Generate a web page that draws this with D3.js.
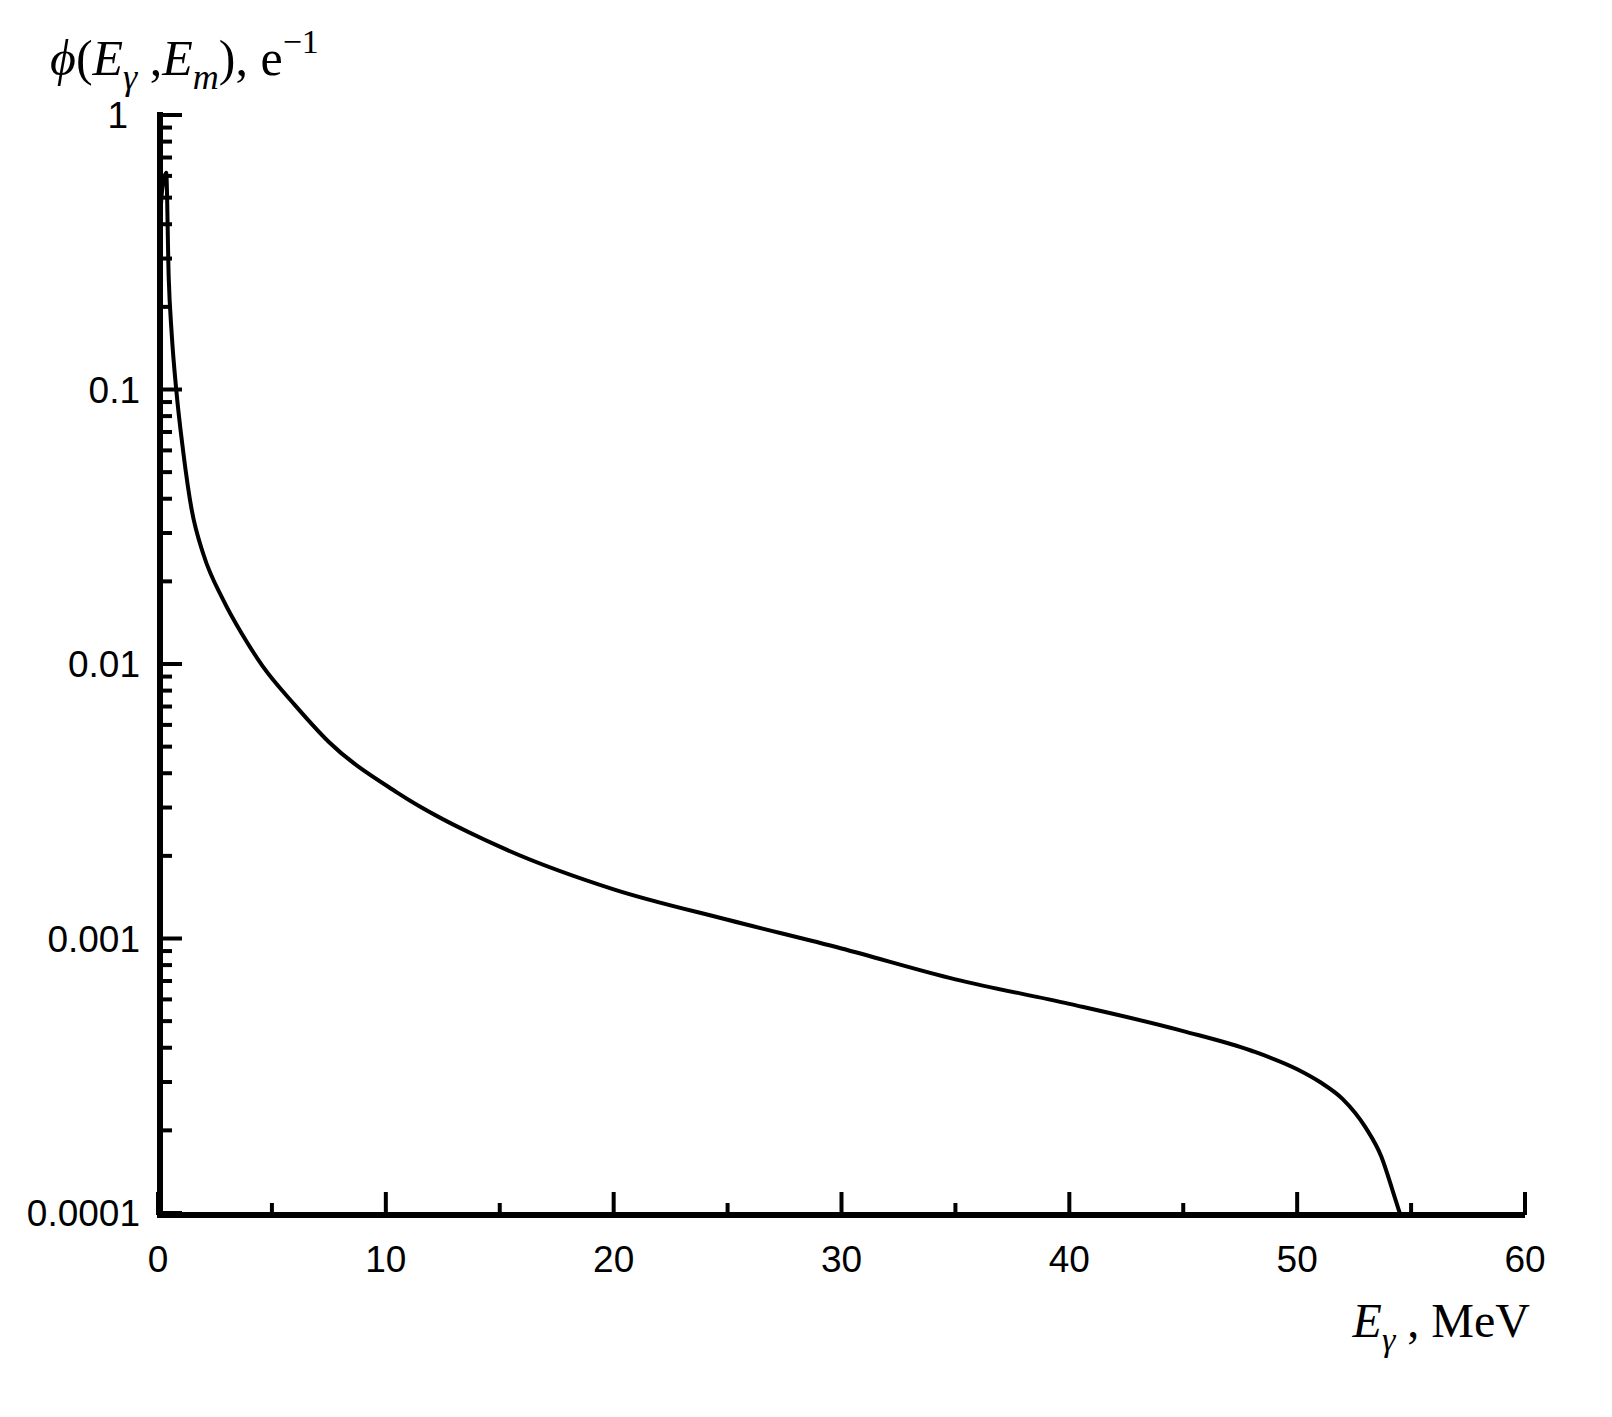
<!DOCTYPE html><html><head><meta charset="utf-8"><script src="https://d3js.org/d3.v7.min.js"></script>
<style>body{margin:0;background:#fff}</style></head><body><svg id="c" width="1612" height="1417"></svg>
<script>
const energy=[0.05,0.15,0.3,0.36,0.47,0.6,0.8,1.1,1.48,2,2.85,3.7,4.6,6,7.5,10.5,15,20,25,30,35,40,45,48,50,51,52,53,53.7,54.2,54.5];
const phi=[0.3,0.5,0.6,0.616,0.256,0.16,0.1,0.06,0.0364,0.025,0.0172,0.0128,0.0098,0.0071,0.0052,0.0034,0.00216,0.00151,0.00117,0.00092,0.00071,0.000578,0.00046,0.00039,0.000334,0.0003,0.00026,0.000205,0.00016,0.00012,0.0001];
const xTicks=[0,10,20,30,40,50,60];
const yTicks=[1,0.1,0.01,0.001,0.0001];
const yLabels=["1","0.1","0.01","0.001","0.0001"];
const svg=d3.select("#c");
const x=d3.scaleLinear().domain([0,60]).range([158,1525]);
const y=d3.scaleLog().domain([0.0001,1]).range([1213,115]);
const g=svg.append("g");
g.append("path").datum(energy.map((e,i)=>[e,phi[i]])).attr("fill","none").attr("stroke","#000").attr("stroke-width",4)
 .attr("d",d3.line().x(d=>x(d[0])).y(d=>y(d[1])).curve(d3.curveMonotoneX));
g.append("line").attr("x1",x(0)).attr("x2",x(60)).attr("y1",1215).attr("y2",1215).attr("stroke","#000").attr("stroke-width",6);
g.append("line").attr("x1",160).attr("x2",160).attr("y1",112).attr("y2",1218).attr("stroke","#000").attr("stroke-width",6);
const xMinor=d3.range(5,60,10);
xTicks.forEach(t=>{g.append("line").attr("x1",x(t)).attr("x2",x(t)).attr("y1",1215).attr("y2",1192).attr("stroke","#000").attr("stroke-width",4);
 g.append("text").attr("x",x(t)).attr("y",1272).attr("text-anchor","middle").attr("font-family","Liberation Sans, Arial").attr("font-size",37).text(t);});
xMinor.forEach(t=>g.append("line").attr("x1",x(t)).attr("x2",x(t)).attr("y1",1215).attr("y2",1203).attr("stroke","#000").attr("stroke-width",4));
yTicks.forEach((t,i)=>{g.append("line").attr("x1",160).attr("x2",182).attr("y1",y(t)).attr("y2",y(t)).attr("stroke","#000").attr("stroke-width",4);
 g.append("text").attr("x",i==0?128:140).attr("y",y(t)+13).attr("text-anchor","end").attr("font-family","Liberation Sans, Arial").attr("font-size",37).text(yLabels[i]);});
[0.0001,0.001,0.01,0.1].forEach(d=>{for(let k=2;k<=9;k++)g.append("line").attr("x1",160).attr("x2",172).attr("y1",y(d*k)).attr("y2",y(d*k)).attr("stroke","#000").attr("stroke-width",4);});
const yl=svg.append("text").attr("x",50).attr("y",75).attr("font-family","Liberation Serif, Times New Roman").attr("font-size",50);
yl.append("tspan").attr("font-style","italic").text("ϕ");
yl.append("tspan").text("(");
yl.append("tspan").attr("font-style","italic").text("E");
yl.append("tspan").attr("font-style","italic").attr("font-size",36).attr("dy",14).text("γ");
yl.append("tspan").attr("dy",-14).text(" ,");
yl.append("tspan").attr("font-style","italic").text("E");
yl.append("tspan").attr("font-style","italic").attr("font-size",36).attr("dy",14).text("m");
yl.append("tspan").attr("dy",-14).text("), e");
yl.append("tspan").attr("font-size",34).attr("dy",-22).text("−1");
const xl=svg.append("text").attr("x",1530).attr("y",1337).attr("text-anchor","end").attr("font-family","Liberation Serif, Times New Roman").attr("font-size",48);
xl.append("tspan").attr("font-style","italic").text("E");
xl.append("tspan").attr("font-style","italic").attr("font-size",34).attr("dy",14).text("γ");
xl.append("tspan").attr("dy",-14).text(" , MeV");
</script></body></html>
